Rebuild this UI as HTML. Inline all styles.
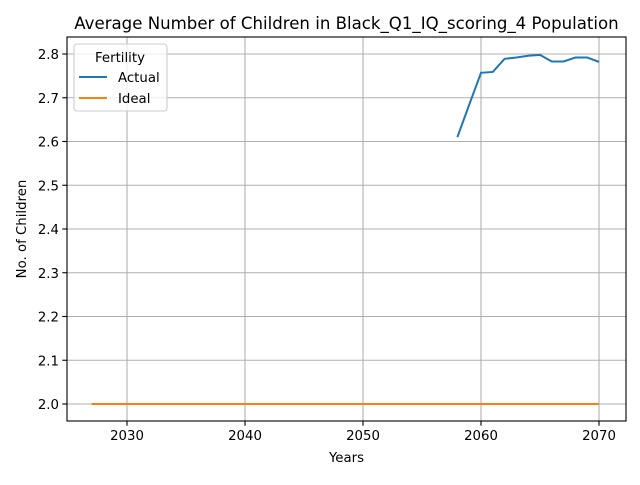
<!DOCTYPE html>
<html><head><meta charset="utf-8"><style>
body{margin:0;background:#fff;}
svg text{font-family:"DejaVu Sans","Liberation Sans",sans-serif;fill:#000;}
</style></head><body>
<svg id="chart" width="640" height="480"></svg>
<script>
const actualYears=[2058,2059,2060,2061,2062,2063,2064,2065,2066,2067,2068,2069,2070];
const actualValues=[2.61,2.684,2.757,2.759,2.789,2.792,2.796,2.798,2.783,2.783,2.792,2.792,2.782];
const idealYears=[2027,2070];
const idealValues=[2.0,2.0];
const xTicks=[2030,2040,2050,2060,2070];
const yTicks=[2.0,2.1,2.2,2.3,2.4,2.5,2.6,2.7,2.8];

const L=67,R=626,T=37,B=421;
const x=v=>127+(v-2030)*11.8;
const y=v=>404-(v-2.0)*437.5;
const svg=document.getElementById('chart');
const NS='http://www.w3.org/2000/svg';
function mk(tag,attrs,parent){const e=document.createElementNS(NS,tag);for(const k in attrs)e.setAttribute(k,attrs[k]);(parent||svg).appendChild(e);return e;}

const grid=mk('g',{});


xTicks.forEach(t=>{
  const l=mk('line',{x1:x(t),x2:x(t),y1:T,y2:B,stroke:'#b0b0b0','stroke-width':1.1},grid);
  
  
  const tk=mk('line',{x1:x(t),x2:x(t),y1:B,y2:B+4.7,stroke:'#000','stroke-width':1.1});
  
  
  const tx=mk('text',{x:x(t),y:B+19,'text-anchor':'middle','font-size':'13.3px'});
  tx.textContent=t;
  
  
});
yTicks.forEach(t=>{
  const l=mk('line',{x1:L,x2:R,y1:y(t),y2:y(t),stroke:'#b0b0b0','stroke-width':1.1},grid);
  
  
  const tk=mk('line',{x1:L-4.7,x2:L,y1:y(t),y2:y(t),stroke:'#000','stroke-width':1.1});
  
  
  const tx=mk('text',{x:L-8,y:y(t)+5,'text-anchor':'end','font-size':'13.3px'});
  tx.textContent=t.toFixed(1);
  
  
});

const a=mk('polyline',{points:actualYears.map((yr,i)=>x(yr)+','+y(actualValues[i])).join(' '),fill:'none',stroke:'#1f77b4','stroke-width':2});


const id=mk('polyline',{points:idealYears.map((yr,i)=>x(yr)+','+y(idealValues[i])).join(' '),fill:'none',stroke:'#ff7f0e','stroke-width':2});



const frame=mk('rect',{x:L,y:T,width:R-L,height:B-T,fill:'none',stroke:'#000','stroke-width':1.1});



const title=mk('text',{x:(L+R)/2,y:29,'text-anchor':'middle','font-size':'16.6px'});
title.textContent='Average Number of Children in Black_Q1_IQ_scoring_4 Population';


const xl=mk('text',{x:(L+R)/2,y:462,'text-anchor':'middle','font-size':'13.3px'});
xl.textContent='Years';


const yl=mk('text',{x:26,y:(T+B)/2,'text-anchor':'middle','font-size':'13.3px',transform:'rotate(-90 26 '+((T+B)/2)+')'});
yl.textContent='No. of Children';



const lg=mk('g',{});


mk('rect',{x:74,y:44,width:93,height:67,rx:3,fill:'#fff','fill-opacity':0.8,stroke:'#cccccc','stroke-width':1.1},lg);
const lt=mk('text',{x:120,y:62,'text-anchor':'middle','font-size':'13.3px'},lg);
lt.textContent='Fertility';


[['Actual','#1f77b4',77],['Ideal','#ff7f0e',98]].forEach(([n,c,yy])=>{
  const ll=mk('line',{x1:79,x2:107,y1:yy,y2:yy,stroke:c,'stroke-width':2},lg);
  
  
  const t=mk('text',{x:118,y:yy+5,'font-size':'13.3px'},lg);
  t.textContent=n;
  
  
});
</script>
</body></html>
